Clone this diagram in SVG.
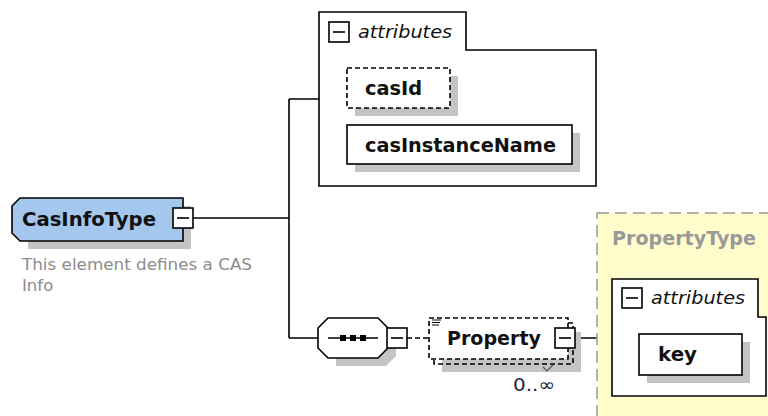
<svg xmlns="http://www.w3.org/2000/svg" width="768" height="416" viewBox="0 0 768 416">
<style>
.b{fill:#fff;stroke:#000;stroke-width:1.6}
.sh{fill:#c4c4c4}
.n{font-family:"DejaVu Sans","Liberation Sans",sans-serif;font-weight:bold;font-size:19px;fill:#111}
.it{font-family:"DejaVu Sans","Liberation Sans",sans-serif;font-style:italic;font-size:18px;fill:#111}
.ln{fill:none;stroke:#000;stroke-width:1.6}
.ds{fill:none;stroke:#000;stroke-width:1.6;stroke-dasharray:5,3}
</style>
<defs>
<g id="minus"><rect x="0" y="0" width="20" height="20" fill="#fff" stroke="#000" stroke-width="1.6"/><line x1="4" y1="10" x2="16" y2="10" stroke="#000" stroke-width="1.6"/></g>
</defs>
<g id="connectors">
<path class="ln" d="M193,218 H289 M289,99 V338 M289,99 H319 M289,338 H318"/>
<path class="ds" d="M407,338 H429"/>
<path class="ln" d="M575,338 H612"/>
</g>
<g id="propertytype">
<rect x="597" y="213" width="180" height="210" fill="#fffdcc" stroke="#9a9a9a" stroke-width="1.5" stroke-dasharray="12,6"/>
<text class="n" x="612" y="245" fill="#999" style="fill:#999" textLength="144" lengthAdjust="spacingAndGlyphs">PropertyType</text>
</g>
<g id="attributes2">
<path class="b" d="M612,279 H758 V317 H766 V396 H612 Z"/>
<use href="#minus" x="622" y="288"/>
<text class="it" x="651" y="304" textLength="94" lengthAdjust="spacingAndGlyphs">attributes</text>
</g>
<g id="key">
<rect class="sh" x="647" y="342" width="103" height="41"/>
<rect class="b" x="639" y="334" width="103" height="41"/>
<text class="n" x="658" y="361" textLength="39" lengthAdjust="spacingAndGlyphs">key</text>
</g>
<g id="attributes1">
<path class="b" d="M319,12 H466 V50 H596 V186 H319 Z"/>
<use href="#minus" x="329" y="22"/>
<text class="it" x="358" y="38" textLength="94" lengthAdjust="spacingAndGlyphs">attributes</text>
</g>
<g id="casId">
<rect class="sh" x="355" y="76" width="103" height="40"/>
<rect x="347" y="68" width="103" height="40" fill="#fff" stroke="#000" stroke-width="1.6" stroke-dasharray="5,3"/>
<text class="n" x="365" y="95" textLength="57" lengthAdjust="spacingAndGlyphs">casId</text>
</g>
<g id="casInstanceName">
<rect class="sh" x="355" y="133" width="225" height="39"/>
<rect class="b" x="347" y="125" width="225" height="39"/>
<text class="n" x="365" y="152" textLength="191" lengthAdjust="spacingAndGlyphs">casInstanceName</text>
</g>
<g id="CasInfoType">
<path class="sh" d="M28,206 H191 V249 H28 Z"/>
<path d="M20,198 H183 V241 H20 L12,233 V206 Z" fill="#a4c7ee" stroke="#000" stroke-width="1.6"/>
<text class="n" x="22" y="226" textLength="134" lengthAdjust="spacingAndGlyphs">CasInfoType</text>
<use href="#minus" x="173" y="208"/>
<text x="22" y="270" font-family="DejaVu Sans, Liberation Sans, sans-serif" font-size="16.5" fill="#8c8c8c" textLength="230" lengthAdjust="spacingAndGlyphs">This element defines a CAS</text>
<text x="22" y="291" font-family="DejaVu Sans, Liberation Sans, sans-serif" font-size="16.5" fill="#8c8c8c">Info</text>
</g>
<g id="sequence">
<path class="sh" d="M336,326 H386 L396,336 V356 L386,366 H336 Z"/>
<path d="M328,318 H378 L388,328 V348 L378,358 H328 L318,348 V328 Z" fill="#fff" stroke="#000" stroke-width="1.6"/>
<path class="ln" d="M328,338 H378"/>
<rect x="340" y="335" width="6" height="6" fill="#000"/>
<rect x="350" y="335" width="6" height="6" fill="#000"/>
<rect x="360" y="335" width="6" height="6" fill="#000"/>
<use href="#minus" x="387" y="328"/>
</g>
<g id="Property">
<rect class="sh" x="442" y="332" width="139" height="40"/>
<path class="ds" d="M568,323 H573 V364 H434 V359"/>
<rect x="429" y="318" width="139" height="41" fill="#fff" stroke="#000" stroke-width="1.6" stroke-dasharray="5,3"/>
<path d="M432,320 H441 M432,322.5 H440 M432,325 H439" stroke="#000" stroke-width="1"/>
<text class="n" x="447" y="345" textLength="94" lengthAdjust="spacingAndGlyphs">Property</text>
<use href="#minus" x="555" y="328"/>
<path d="M543,367 L547,371 L553,365" fill="none" stroke="#555" stroke-width="1.2"/>
<text x="513" y="391" font-family="DejaVu Sans, Liberation Sans, sans-serif" font-size="18" fill="#1a2340" textLength="42" lengthAdjust="spacingAndGlyphs">0..∞</text>
</g>
</svg>
